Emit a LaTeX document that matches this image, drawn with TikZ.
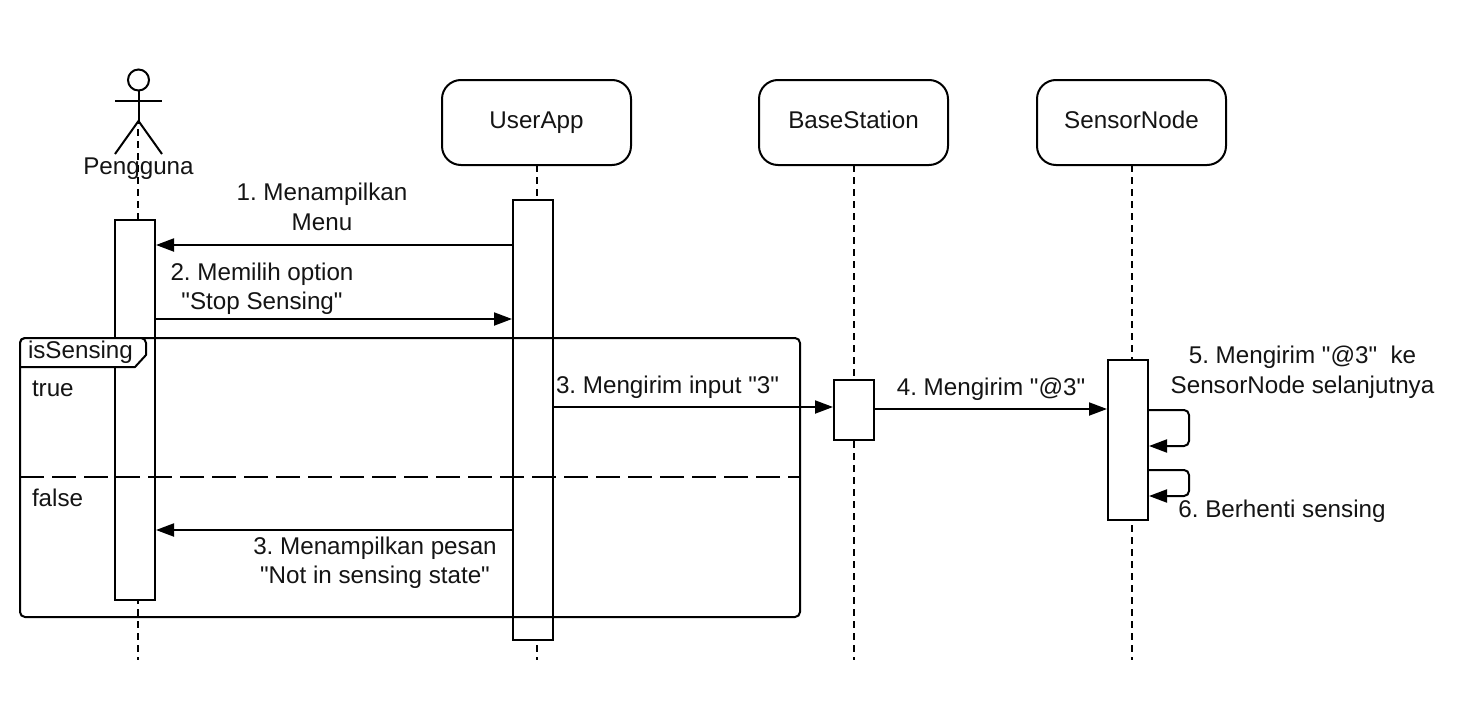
\documentclass[tikz,border=0pt]{standalone}
\usepackage{fontspec}
\setmainfont{Liberation Sans}[Ligatures=TeXOff]
\frenchspacing
\usetikzlibrary{arrows.meta,calc}
\tikzset{
  x=1pt,y=-1pt,
  every node/.style={font=\fontsize{24.2}{29.5}\selectfont,inner sep=0pt,outer sep=0pt,text=black!92},
  lifebox/.style={draw=black,line width=2pt,rounded corners=19pt,fill=white,minimum width=189pt,minimum height=85pt,text height=18pt,text depth=6pt},
  actbox/.style={draw=black,line width=2pt,fill=white,minimum width=40pt},
  lifeline/.style={draw=black,line width=2pt,dash pattern=on 7pt off 5pt},
  msg/.style={draw=black,line width=2pt,-{Triangle[length=18pt,width=13pt]}},
  framebox/.style={draw=black,line width=2pt,rounded corners=5pt},
  limb/.style={draw=black,line width=2pt},
  lbl/.style={align=center},
}
\begin{document}
\begin{tikzpicture}
\useasboundingbox (0,0) rectangle (1476,712);
\fill[white] (0,0) rectangle (1476,712);

% lifeline heads
\node[lifebox] (ua) at (536.5,122.5) {UserApp};
\node[lifebox] (bs) at (853.5,122.5) {BaseStation};
\node[lifebox] (sn) at (1131.5,122.5) {SensorNode};

% actor
\node[draw=black,line width=2pt,circle,minimum size=21pt,fill=white] (head) at (138.5,80) {};
\coordinate (hip) at (138.5,121);
\coordinate (armL) at (115,101);
\coordinate (armR) at (162,101);
\coordinate (footL) at (115,154);
\coordinate (footR) at (162,154);
\draw[limb] (head) -- (hip);
\draw[limb] (armL) -- (armR);
\draw[limb] (footL) -- (hip) -- (footR);
\coordinate (pg0) at (138,121);

% lifelines
\coordinate (pgE) at (138,660);
\coordinate (uaE) at (537,660);
\coordinate (bsE) at (854,660);
\coordinate (snE) at (1132,660);
\draw[lifeline,dash phase=4pt] (pg0) -- (pgE);
\draw[lifeline] ($(ua.south)+(.5,0)$) -- (uaE);
\draw[lifeline] ($(bs.south)+(.5,0)$) -- (bsE);
\draw[lifeline] ($(sn.south)+(.5,0)$) -- (snE);

\node[lbl] (pgl) at (138.5,168.5) {Pengguna};

% activations
\node[actbox,minimum height=380pt] (ap) at (135,410) {};
\node[actbox,minimum height=440pt] (au) at (533,420) {};
\node[actbox,minimum height=60pt] (ab) at (854,410) {};
\node[actbox,minimum height=160pt] (as) at (1128,440) {};

% frame
\coordinate (fTL) at (20,338);
\coordinate (fBR) at (800,617);
\draw[framebox] (fTL) rectangle (fBR);
\coordinate (tabTR) at (146,338);
\coordinate (tabC) at (146,355);
\coordinate (tabD) at (135,367);
\coordinate (tabL) at (20,367);
\filldraw[draw=black,fill=white,line width=2pt,line join=round]
  [rounded corners=5pt] (fTL) -- (tabTR) [sharp corners] -- (tabC) -- (tabD) -- (tabL) [rounded corners=5pt] -- cycle;
\node[anchor=west] (tabl) at (28,352) {isSensing};
\coordinate (divL) at (20,477);
\coordinate (divR) at (800,477);
\draw[draw=black,line width=2pt,dash pattern=on 24pt off 8pt] (divL) -- (divR);
\node[anchor=west] (tru) at (32,389) {true};
\node[anchor=west] (fal) at (32,498) {false};

% messages
\draw[msg] (au.west |- 0,245) -- ($(ap.east |- 0,245)+(1,0)$);
\draw[msg] (ap.east |- 0,319) -- ($(au.west |- 0,319)+(-1,0)$);
\draw[msg] (au.east |- 0,407) -- ($(ab.west |- 0,407)+(-1,0)$);
\draw[msg] (ab.east |- 0,409) -- ($(as.west |- 0,409)+(-1,0)$);
\draw[msg] (au.west |- 0,530) -- ($(ap.east |- 0,530)+(1,0)$);
\draw[msg,rounded corners=5pt] (as.east |- 0,410) -- (1189,410) -- (1189,446) -- ($(as.east |- 0,446)+(1,0)$);
\draw[msg,rounded corners=5pt] (as.east |- 0,470) -- (1189,470) -- (1189,496) -- ($(as.east |- 0,496)+(1,0)$);

% labels
\node[lbl] (m1) at (322,207) {1. Menampilkan\\Menu};
\node[lbl] (m2) at (262,288.5) {2. Memilih option\\"Stop Sensing"};
\node[lbl] (m3) at (667.5,387.5) {3. Mengirim input "3"};
\node[lbl] (m4) at (991,389) {4. Mengirim "@3"};
\node[lbl] (m5) at (1302.5,372) {5. Mengirim "@3"\ \ ke\\SensorNode selanjutnya};
\node[lbl] (m6) at (1282,511) {6. Berhenti sensing};
\node[lbl] (m7) at (375,562.5) {3. Menampilkan pesan\\"Not in sensing state"};
\end{tikzpicture}
\end{document}
